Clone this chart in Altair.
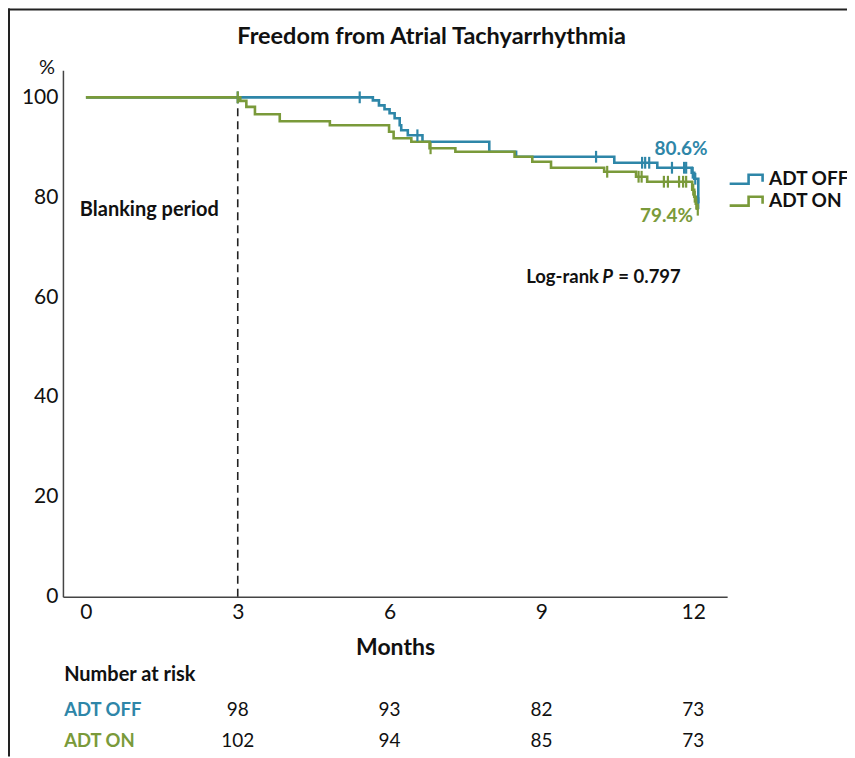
import altair as alt
import pandas as pd

# ---------------- data ----------------
groups = ["ADT OFF", "ADT ON"]
colors = ["#2e86a8", "#7a9a3a"]

# Kaplan-Meier steps (months, % free from AT)
off_t = [0, 5.67, 5.79, 5.90, 6.00, 6.10, 6.20, 6.23, 6.36, 6.65, 7.97, 8.50, 10.44, 11.29, 11.97, 12.02, 12.10]
off_s = [100, 99.4, 98.4, 97.6, 96.8, 95.8, 94.4, 93.4, 92.4, 91.1, 89.1, 88.1, 86.9, 85.9, 84.9, 83.7, 78.8]
on_t = [0, 3.05, 3.17, 3.34, 3.83, 4.82, 5.99, 6.08, 6.43, 6.79, 7.30, 8.47, 8.82, 9.19, 10.24, 10.87, 11.09, 11.98, 12.02, 12.05, 12.08]
on_s = [100, 99.3, 98.1, 96.6, 95.2, 94.4, 93.1, 91.8, 91.1, 89.8, 89.1, 88.1, 87.1, 85.9, 85.1, 84.1, 83.1, 81.5, 80.1, 78.7, 77.5]

# censored observations
off_ct = [3.0, 5.41, 6.55, 10.08, 10.99, 11.05, 11.13, 11.58, 11.82, 11.86, 11.99, 12.04, 12.10]
off_cs = [100, 100, 92.4, 88.1, 86.9, 86.9, 86.9, 85.9, 85.9, 85.9, 84.9, 83.7, 78.8]
on_ct = [3.0, 6.81, 10.30, 10.92, 10.98, 11.42, 11.50, 11.72, 11.80, 11.86, 12.00, 12.03, 12.06, 12.09]
on_cs = [100, 89.8, 85.1, 84.1, 84.1, 83.1, 83.1, 83.1, 83.1, 83.1, 81.5, 80.1, 78.7, 77.5]

# number at risk
risk_months = [3, 6, 9, 12]
risk_off = [98, 93, 82, 73]
risk_on = [102, 94, 85, 73]

x_ticks = [0, 3, 6, 9, 12]
y_ticks = [0, 20, 40, 60, 80, 100]
final_labels = ["80.6%", "79.4%"]
title_text = "Freedom from Atrial Tachyarrhythmia"

FONT = "Lato"
W, H = 665, 527
X_DOM = [-0.454, 12.67]
Y_DOM = [0, 105.4]

xs = alt.Scale(domain=X_DOM, nice=False, zero=False)
ys = alt.Scale(domain=Y_DOM, nice=False, zero=False)
cs = alt.Scale(domain=groups, range=colors)

curves = pd.DataFrame(
    {"t": off_t + on_t, "s": off_s + on_s,
     "g": [groups[0]] * len(off_t) + [groups[1]] * len(on_t)}
)
cens = pd.DataFrame(
    {"t": off_ct + on_ct, "s": off_cs + on_cs,
     "g": [groups[0]] * len(off_ct) + [groups[1]] * len(on_ct)}
)

# legend glyph: a small KM step, drawn wider than the nominal symbol box
legend_path = "M-2,0.54L0.3,0.54L0.3,-0.54L2,-0.54L2,0.3"

base_x = alt.X("t:Q", scale=xs,
               axis=alt.Axis(values=x_ticks, title="Months", grid=False, ticks=False,
                             labelFontSize=21, labelFont=FONT, labelColor="#111",
                             labelPadding=5, domainColor="#444", domainWidth=1.5,
                             titleFont=FONT, titleFontSize=23, titleFontWeight="bold",
                             titleColor="#111", titlePadding=14))
base_y = alt.Y("s:Q", scale=ys,
               axis=alt.Axis(values=y_ticks, title=None, grid=False, ticks=False,
                             labelFontSize=21, labelFont=FONT, labelColor="#111",
                             labelPadding=5, domainColor="#444", domainWidth=1.5))

lines = alt.Chart(curves).mark_line(interpolate="step-after", strokeWidth=2.6).encode(
    x=base_x, y=base_y,
    color=alt.Color("g:N", scale=cs, sort=groups,
                    legend=alt.Legend(title=None, orient="none", legendX=674, legendY=99,
                                      symbolType=legend_path, symbolSize=272,
                                      symbolStrokeWidth=2.6, symbolFillColor="transparent",
                                      labelFont=FONT, labelFontSize=19, labelFontWeight="bold",
                                      labelColor="#111", labelOffset=13, rowPadding=2)),
)

ticks = alt.Chart(cens).mark_point(shape="M0,-1L0,1", size=140, strokeWidth=2.2,
                                   filled=False, opacity=1).encode(
    x=alt.X("t:Q", scale=xs), y=alt.Y("s:Q", scale=ys),
    color=alt.Color("g:N", scale=cs, legend=None),
)

blank = pd.DataFrame({"t": [3], "s": [0], "s2": [100]})
dashed = alt.Chart(blank).mark_rule(color="#222", strokeWidth=1.6, strokeDash=[8, 5]).encode(
    x=alt.X("t:Q", scale=xs), y=alt.Y("s:Q", scale=ys), y2="s2:Q"
)


def label(t, s, text, align="center", color="#111", size=17, weight="bold", style="normal"):
    df = pd.DataFrame({"t": [t], "s": [s], "txt": [text]})
    return alt.Chart(df).mark_text(align=align, baseline="middle", font=FONT, fontSize=size,
                                   fontWeight=weight, fontStyle=style, color=color).encode(
        x=alt.X("t:Q", scale=xs), y=alt.Y("s:Q", scale=ys), text="txt:N"
    )


texts = [
    label(6.83, 112.0, title_text, size=23.5),
    label(-0.77, 105.8, "%", size=20, weight="normal"),
    label(-0.12, 77.4, "Blanking period", align="left", size=20),
    label(8.70, 64.0, "Log-rank", align="left", size=18.5),
    label(10.20, 64.0, "P", align="left", size=18.5, style="italic"),
    label(10.52, 64.0, "= 0.797", align="left", size=18.5),
    label(11.76, 89.6, final_labels[0], color=colors[0], size=19),
    label(11.47, 76.2, final_labels[1], color=colors[1], size=19),
    label(-0.43, -15.6, "Number at risk", align="left", size=20),
    label(-0.43, -22.6, groups[0], align="left", color=colors[0], size=18.5),
    label(-0.43, -28.8, groups[1], align="left", color=colors[1], size=18.5),
]

risk = pd.DataFrame({
    "t": risk_months + risk_months,
    "s": [-22.6] * 4 + [-28.8] * 4,
    "n": [str(v) for v in risk_off + risk_on],
})
risk_text = alt.Chart(risk).mark_text(font=FONT, fontSize=19, color="#111", baseline="middle").encode(
    x=alt.X("t:Q", scale=xs), y=alt.Y("s:Q", scale=ys), text="n:N"
)

frame_top = alt.Chart(blank).mark_rule(color="#222", strokeWidth=2).encode(
    x=alt.value(-55), x2=alt.value(W + 120), y=alt.value(-61)
)
frame_left = alt.Chart(blank).mark_rule(color="#222", strokeWidth=2).encode(
    x=alt.value(-54), y=alt.value(-62), y2=alt.value(H + 160)
)

chart = alt.layer(dashed, lines, ticks, risk_text, *texts, frame_top, frame_left).properties(
    width=W, height=H,
    background="white",
    autosize=alt.AutoSizeParams(type="none"),
    padding={"left": 55, "top": 62, "right": 120, "bottom": 160},
).configure_view(strokeWidth=0, stroke="transparent")

chart.save("out.html", embed_options={"renderer": "svg", "actions": False})
